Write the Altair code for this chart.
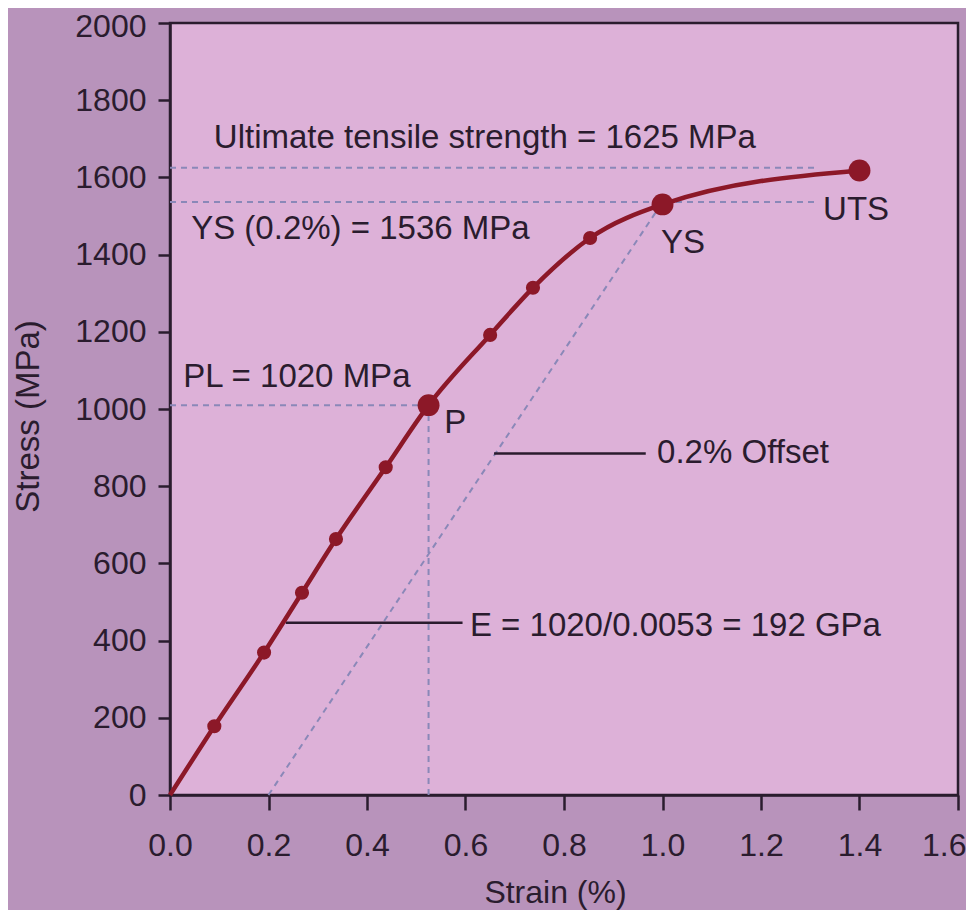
import altair as alt
import pandas as pd

# ---- data ----
strain = [0.0, 0.09, 0.191, 0.268, 0.337, 0.438, 0.525, 0.65, 0.737, 0.853, 1.0, 1.4]
stress = [0, 178, 369, 524, 663, 849, 1010, 1192, 1314, 1443, 1530, 1618]
marker = ["none", "small", "small", "small", "small", "small", "big",
          "small", "small", "small", "big", "big"]

# horizontal dashed guide lines (stress level, strain start, strain end)
h_level = [1625, 1536, 1010]
h_start = [0.0, 0.0, 0.0]
h_end = [1.31, 1.31, 0.525]

# vertical dashed line at P
v_strain = [0.525]
v_top = [1010]

# 0.2 % offset line (start and end)
off_x = [0.2]
off_y = [0]
off_x2 = [1.0]
off_y2 = [1536]

# leader lines (solid)
lead_x = [0.658, 0.235]
lead_x2 = [0.966, 0.594]
lead_y = [885, 446]

# annotation texts and anchors (data coordinates, left edge / baseline)
ann_text = ["Ultimate tensile strength = 1625 MPa", "YS (0.2%) = 1536 MPa", "UTS", "YS",
            "PL = 1020 MPa", "P", "0.2% Offset", "E = 1020/0.0053 = 192 GPa"]
ann_x = [0.089, 0.043, 1.326, 0.997, 0.027, 0.557, 0.989, 0.609]
ann_y = [1677, 1440, 1489, 1404, 1058, 937, 859, 413]

x_ticks = [0.0, 0.2, 0.4, 0.6, 0.8, 1.0, 1.2, 1.4, 1.6]
y_ticks = [0, 200, 400, 600, 800, 1000, 1200, 1400, 1600, 1800, 2000]

# ---- styling ----
FONT = "Liberation Sans"
INK = "#2a1c2e"
RED = "#8c1828"
DASH = "#8a88b8"

curve = pd.DataFrame({"x": strain, "y": stress, "marker": marker})
hlines = pd.DataFrame({"y": h_level, "x": h_start, "x2": h_end})
vlines = pd.DataFrame({"x": v_strain, "y": [0] * len(v_strain), "y2": v_top})
offset = pd.DataFrame({"x": off_x, "y": off_y, "x2": off_x2, "y2": off_y2})
leads = pd.DataFrame({"x": lead_x, "x2": lead_x2, "y": lead_y})
ann = pd.DataFrame({"text": ann_text, "x": ann_x, "y": ann_y})

xscale = alt.Scale(domain=[0, 1.6], nice=False)
yscale = alt.Scale(domain=[0, 2000], nice=False)

xaxis = alt.Axis(
    values=x_ticks, format=".1f", tickSize=15, labelPadding=20, labelFlush=False,
    labelAlign={"condition": {"test": "datum.value >= 1.6", "value": "right"}, "value": "center"},
    labelOffset={"condition": {"test": "datum.value >= 1.6", "value": 8}, "value": 0},
    titleX=385, titleY=107, titleBaseline="alphabetic")
yaxis = alt.Axis(
    values=y_ticks, format="d", tickSize=12, labelPadding=12, labelFlush=False,
    labelOffset={"condition": {"test": "datum.value >= 2000", "value": 3}, "value": 0},
    titleX=-142, titleY=393, titleAngle=-90, titleBaseline="middle",
    titleFontSize=33)

X = alt.X("x:Q", scale=xscale, axis=xaxis, title="Strain (%)")
Y = alt.Y("y:Q", scale=yscale, axis=yaxis, title="Stress (MPa)")

base = alt.Chart(curve)

line = base.mark_line(color=RED, strokeWidth=4.5, interpolate="monotone").encode(x=X, y=Y)

small = base.transform_filter(alt.datum.marker == "small").mark_circle(
    color=RED, opacity=1, size=200).encode(x=X, y=Y)
big = base.transform_filter(alt.datum.marker == "big").mark_circle(
    color=RED, opacity=1, size=480).encode(x=X, y=Y)

dash_style = dict(color=DASH, strokeWidth=2, strokeDash=[6, 5])

hl = alt.Chart(hlines).mark_rule(**dash_style).encode(x=X, x2="x2:Q", y=Y)
vl = alt.Chart(vlines).mark_rule(**dash_style).encode(x=X, y=Y, y2="y2:Q")
ol = alt.Chart(offset).mark_rule(**dash_style).encode(x=X, x2="x2:Q", y=Y, y2="y2:Q")
ll = alt.Chart(leads).mark_rule(color=INK, strokeWidth=2.5).encode(x=X, x2="x2:Q", y=Y)

txt = alt.Chart(ann).mark_text(font=FONT, fontSize=33, color=INK, align="left",
                               baseline="alphabetic").encode(x=X, y=Y, text="text:N")

chart = alt.layer(hl, vl, ol, ll, line, small, big, txt).properties(
    width=788, height=772,
    padding={"left": 162, "top": 15, "right": 8, "bottom": 115},
    autosize="none",
    background="#b893bb",
).configure_view(
    fill="#ddb1d8", stroke=INK, strokeWidth=2.5
).configure_axis(
    grid=False, domainColor=INK, domainWidth=2.5, tickColor=INK, tickWidth=2.5,
    labelFont=FONT, labelFontSize=32, labelColor=INK,
    titleFont=FONT, titleFontSize=32, titleFontWeight="normal", titleColor=INK,
)

chart.save("out.html", embed_options={"renderer": "svg", "actions": False})
